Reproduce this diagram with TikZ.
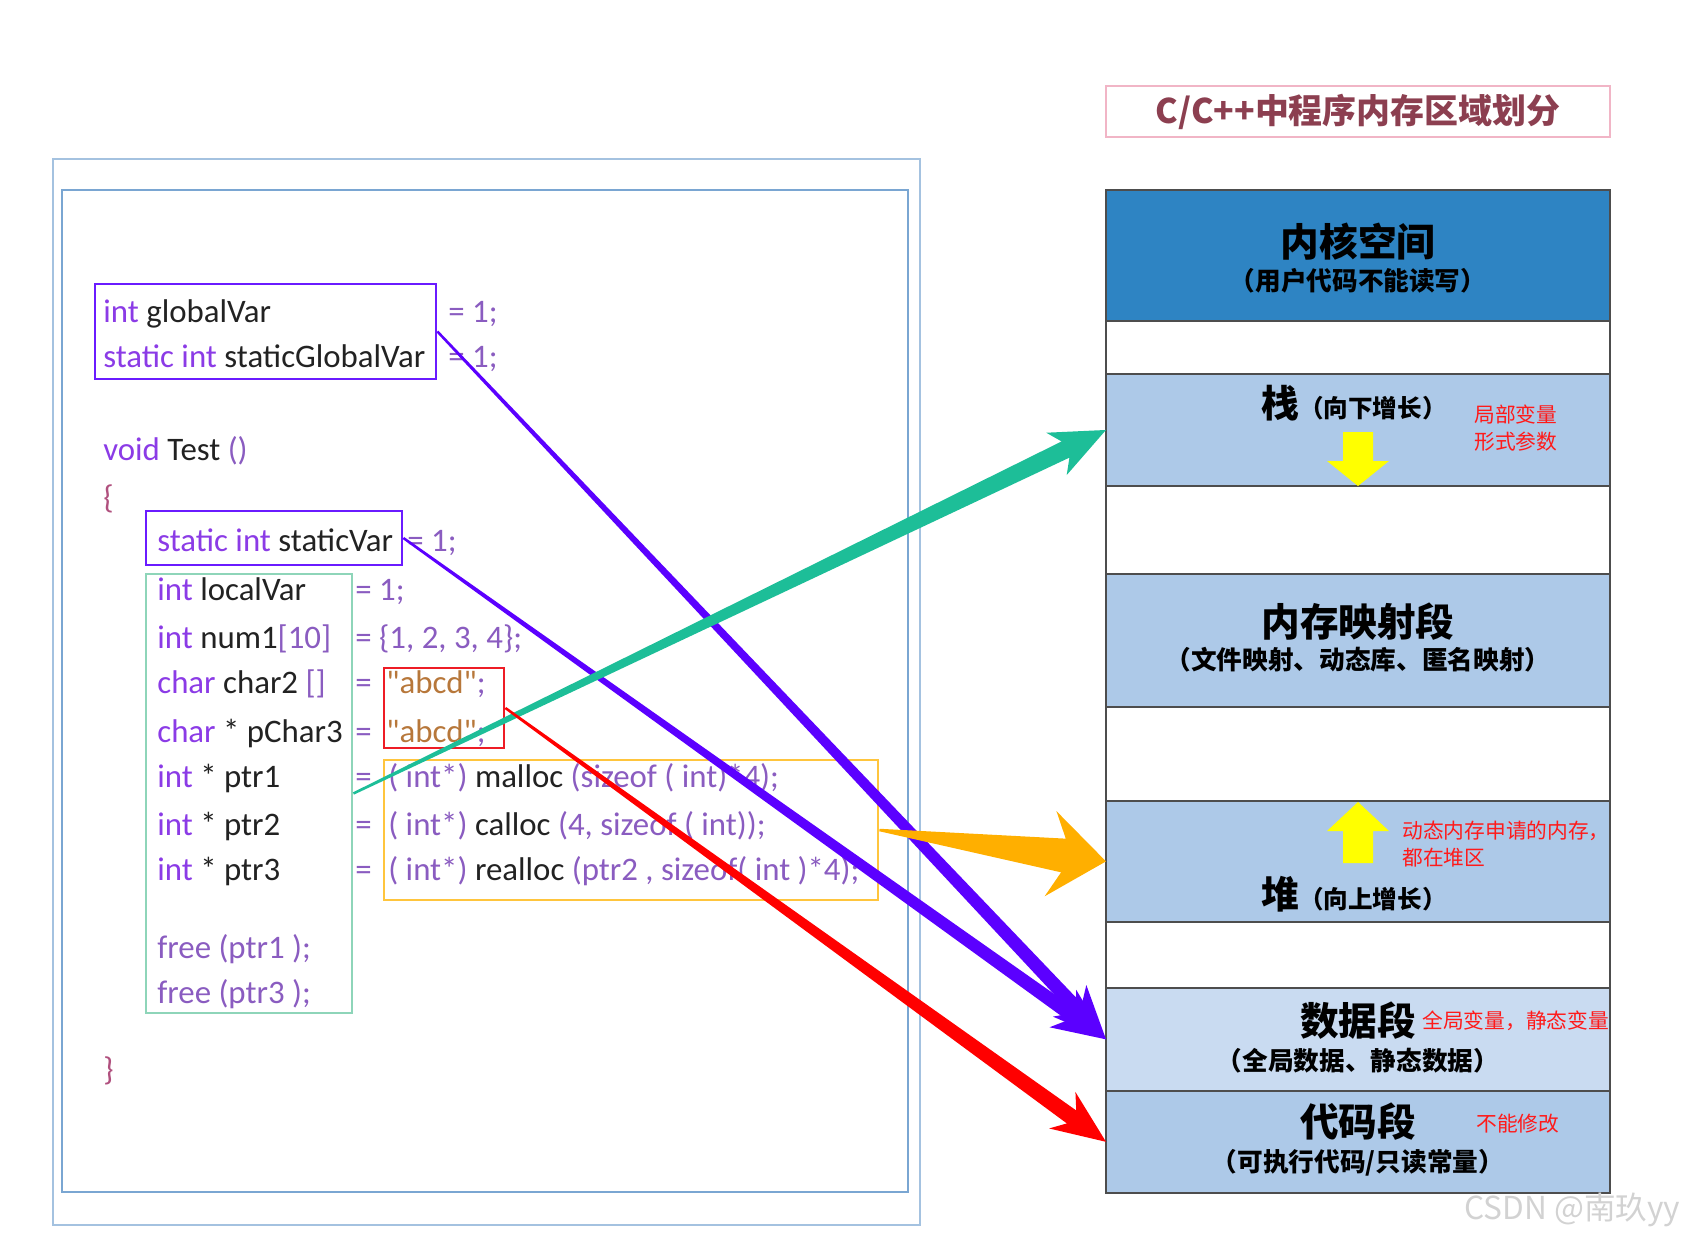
\documentclass[tikz,border=0pt]{standalone}
\usepackage{fontspec}
\setmainfont{Carlito}
\newfontfamily\cjk{Noto Sans CJK SC}
\usepackage{xcolor}
\usepackage{tikz}
\usetikzlibrary{
  positioning,
  calc,
  fit,
}

\definecolor{kernelblue}{HTML}{2E84C3}
\definecolor{seglight}{HTML}{ADC9E8}
\definecolor{segpale}{HTML}{C9DBF1}
\definecolor{segline}{HTML}{4D4D4D}
\definecolor{outerframe}{HTML}{A4C2E0}
\definecolor{innerframe}{HTML}{7AA6D2}
\definecolor{varpurple}{HTML}{6A1BFF}
\definecolor{arrowpurple}{HTML}{5B00FF}
\definecolor{arrowteal}{HTML}{1DBE98}
\definecolor{greenframe}{HTML}{8ED5B9}
\definecolor{arroworange}{HTML}{FFAF00}
\definecolor{yellowframe}{HTML}{FFC53D}
\definecolor{redframe}{HTML}{EE1C25}
\definecolor{arrowred}{HTML}{FF0000}
\definecolor{growyellow}{HTML}{FFFF00}
\definecolor{notered}{HTML}{FF1A1A}
\definecolor{titlered}{HTML}{8C3F50}
\definecolor{titleframe}{HTML}{F1B5C6}
\definecolor{kwc}{HTML}{8B3BE6}
\definecolor{opc}{HTML}{8A5CC0}
\definecolor{idc}{HTML}{222222}
\definecolor{strc}{HTML}{B7773A}
\definecolor{brc}{HTML}{B0507E}
\definecolor{watermark}{HTML}{D2D2D2}

\newcommand{\ckw}[1]{\textcolor{kwc}{#1}}
\newcommand{\cop}[1]{\textcolor{opc}{#1}}
\newcommand{\cstr}[1]{\textcolor{strc}{#1}}

%% tapered arrow: colour, from, to, neck half width, head half width, barb depth, neck depth
\newcommand{\fatarrow}[7]{%
  \path ($(#3)!#6!(#2)$) coordinate (barb)
        ($(#3)!#7!(#2)$) coordinate (neck);
  \fill[#1] ($(#2)!0.025cm!90:(#3)$) -- ($(neck)!#4!90:(#3)$)
    -- ($(barb)!#5!90:(#3)$) -- (#3) -- ($(barb)!#5!-90:(#3)$)
    -- ($(neck)!#4!-90:(#3)$) -- ($(#2)!0.025cm!-90:(#3)$) -- cycle;
}

\begin{document}
\begin{tikzpicture}[
  x=0.02cm, y=-0.02cm,
  codeline/.style={anchor=base west, inner sep=0pt, text=idc,
                   font=\fontsize{18.7}{21}\selectfont},
  varframe/.style={draw=#1, line width=1.6pt, inner sep=0pt},
  seg/.style={draw=segline, line width=1.3pt, minimum width=10.08cm,
              inner sep=0pt, outer sep=0pt},
  segtitle/.style={font=\cjk\bfseries\fontsize{22}{24}\selectfont},
  segsub/.style={font=\cjk\bfseries\fontsize{14.6}{17}\selectfont},
  note/.style={anchor=west, align=left, inner sep=0pt, text=notered,
               font=\cjk\fontsize{11.8}{15.8}\selectfont},
  growarrow/.style={fill=growyellow},
  node distance=0pt,
]
\useasboundingbox (0,0) rectangle (1681,1235);

%% code panel
\node[varframe=outerframe, line width=1.1pt, fit={(53,159) (920,1225)}] (outer) {};
\node[varframe=innerframe, line width=1.1pt, fit={(62,190) (908,1192)}] (inner) {};

\node[varframe=varpurple, fit={(95,284) (436,379)}] (gvbox) {};
\node[varframe=varpurple, fit={(146,511) (402,565)}] (svbox) {};
\node[varframe=greenframe, fit={(146,574) (352,1013)}] (localbox) {};
\node[varframe=redframe, fit={(384,668) (504,748)}] (strbox) {};
\node[varframe=yellowframe, fit={(384,760) (878,900)}] (heapbox) {};

\node[codeline] (gvL)  at (103,322) {\ckw{int} globalVar};
\node[codeline] (gvR)  at (448,322) {\cop{= 1;}};
\node[codeline] (sgvL) at (103,367) {\ckw{static int} staticGlobalVar};
\node[codeline] (sgvR) at (448,367) {\cop{= 1;}};
\node[codeline] (fn)   at (103,460) {\ckw{void} Test \cop{()}};
\node[codeline] (obr)  at (103,508) {\textcolor{brc}{\{}};
\node[codeline] (svL)  at (157,551) {\ckw{static int} staticVar};
\node[codeline] (svR)  at (407,551) {\cop{= 1;}};
\node[codeline] (lvL)  at (157,600) {\ckw{int} localVar};
\node[codeline] (lvR)  at (355,600) {\cop{= 1;}};
\node[codeline] (nmL)  at (157,648) {\ckw{int} num1\cop{[10]}};
\node[codeline] (nmR)  at (355,648) {\cop{= \{1, 2, 3, 4\};}};
\node[codeline] (c2L)  at (157,693) {\ckw{char} char2 \cop{[]}};
\node[codeline] (p3L)  at (157,742) {\ckw{char} * pChar3};
\node[codeline] (p1L)  at (157,787) {\ckw{int} * ptr1};
\node[codeline] (p2L)  at (157,835) {\ckw{int} * ptr2};
\node[codeline] (p3pL) at (157,880) {\ckw{int} * ptr3};
\foreach \y in {693,742,787,835,880}
  \node[codeline] (eq\y) at (355,\y) {\cop{=}};
\node[codeline] (c2R)  at (386,693) {\cstr{\textquotedbl abcd\textquotedbl}\cop{;}};
\node[codeline] (p3R)  at (386,742) {\cstr{\textquotedbl abcd\textquotedbl}\cop{;}};
\node[codeline] (p1R)  at (388,787) {\cop{( int*)} malloc \cop{(sizeof ( int)*4);}};
\node[codeline] (p2R)  at (388,835) {\cop{( int*)} calloc \cop{(4, sizeof ( int));}};
\node[codeline] (p3pR) at (388,880) {\cop{( int*)} realloc \cop{(ptr2 , sizeof( int )*4);}};
\node[codeline] (fr1)  at (157,958) {\cop{free (ptr1 );}};
\node[codeline] (fr3)  at (157,1003) {\cop{free (ptr3 );}};
\node[codeline] (cbr)  at (103,1080) {\textcolor{brc}{\}}};

%% memory layout
\node[draw=titleframe, line width=1.2pt, inner sep=0pt, fit={(1106,86) (1610,137)}] (titlebox) {};
\node[font=\cjk\bfseries\fontsize{19.3}{22}\selectfont, text=titlered] (title)
  at (titlebox.center) {C/C++中程序内存区域划分};

\node[seg, fill=kernelblue, minimum height=2.62cm, anchor=north west] (kernel) at (1106,190) {};
\node[seg, fill=white,    minimum height=1.06cm, below=of kernel]   (gap1) {};
\node[seg, fill=seglight, minimum height=2.24cm, below=of gap1]     (stackseg) {};
\node[seg, fill=white,    minimum height=1.76cm, below=of stackseg] (gap2) {};
\node[seg, fill=seglight, minimum height=2.66cm, below=of gap2]     (mmapseg) {};
\node[seg, fill=white,    minimum height=1.88cm, below=of mmapseg]  (gap3) {};
\node[seg, fill=seglight, minimum height=2.42cm, below=of gap3]     (heapseg) {};
\node[seg, fill=white,    minimum height=1.32cm, below=of heapseg]  (gap4) {};
\node[seg, fill=segpale,  minimum height=2.06cm, below=of gap4]     (dataseg) {};
\node[seg, fill=seglight, minimum height=2.04cm, below=of dataseg]  (codeseg) {};

\fill[growarrow] (1343,432) -- (1373,432) -- (1373,461) -- (1389,461)
  -- (1358,486) -- (1327,461) -- (1343,461) -- cycle;
\fill[growarrow] (1358,802) -- (1389,831) -- (1373,831) -- (1373,863)
  -- (1343,863) -- (1343,831) -- (1327,831) -- cycle;

\node[segtitle] (kernelname) at (1358,242) {内核空间};
\node[segsub]   (kernelsub)  at (1358,281) {（用户代码不能读写）};
\node[anchor=base west, inner sep=0pt, font=\cjk\bfseries] (stackname) at (1261,417)
  {{\fontsize{21.5}{24}\selectfont 栈}{\fontsize{14}{16}\selectfont （向下增长）}};
\node[note] (stacknote) at (1474,428) {局部变量\\形式参数};
\node[segtitle] (mmapname) at (1358,622) {内存映射段};
\node[segsub]   (mmapsub)  at (1358,660) {（文件映射、动态库、匿名映射）};
\node[note] (heapnote) at (1402,844) {动态内存申请的内存，\\都在堆区};
\node[anchor=base west, inner sep=0pt, font=\cjk\bfseries] (heapname) at (1261,908)
  {{\fontsize{21.5}{24}\selectfont 堆}{\fontsize{14}{16}\selectfont （向上增长）}};
\node[segtitle] (dataname) at (1358,1021) {数据段};
\node[note]     (datanote) at (1422,1021) {全局变量，静态变量};
\node[segsub]   (datasub)  at (1358,1061) {（全局数据、静态数据）};
\node[segtitle] (codename) at (1358,1122) {代码段};
\node[note]     (codenote) at (1476,1124) {不能修改};
\node[segsub]   (codesub)  at (1358,1163) {（可执行代码/只读常量）};

%% where each variable lives
\fatarrow{arrowpurple}{gvbox.east}{dataseg.west}{0.14cm}{0.46cm}{1.06cm}{0.85cm}
\fatarrow{arrowpurple}{svbox.east}{dataseg.west}{0.14cm}{0.46cm}{1.06cm}{0.85cm}
\fatarrow{arrowteal}{localbox.east}{stackseg.west}{0.18cm}{0.47cm}{1.1cm}{0.9cm}
\fatarrow{arroworange}{heapbox.east}{heapseg.west}{0.34cm}{0.86cm}{1.12cm}{0.86cm}
\fatarrow{arrowred}{strbox.east}{codeseg.west}{0.16cm}{0.45cm}{1.08cm}{0.85cm}

\node[anchor=base west, inner sep=0pt, text=watermark, font=\cjk\fontsize{18}{20}\selectfont]
  (mark) at (1464,1219) {CSDN @南玖yy};

\end{tikzpicture}
\end{document}
